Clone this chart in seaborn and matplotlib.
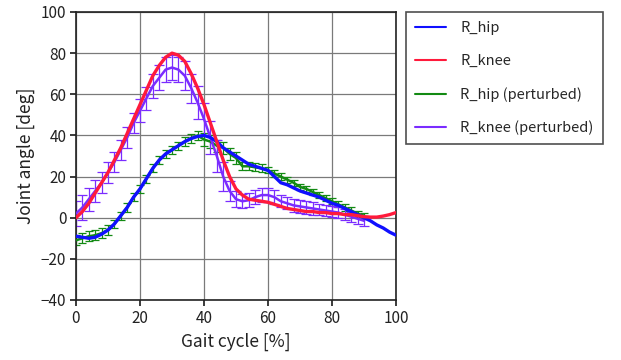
import numpy as np
import pandas as pd
import matplotlib
matplotlib.use("Agg")
import matplotlib.pyplot as plt
import seaborn as sns

# ---- data ----
gait_ref = list(range(0, 101, 2))
gait_pert = list(range(0, 91, 2))

r_hip = [-9, -9.5, -10, -9.5, -8, -6, -3, 1, 5, 10, 14, 19, 24, 28, 31, 33, 35, 37, 38.5, 39.5,
         40, 39, 37, 34, 32, 30, 28, 26, 25, 24, 23, 20, 17, 16, 14.5, 13, 12, 11, 10, 8.5,
         7, 6, 4.5, 3, 1.5, 0, -1.5, -3.5, -5, -7, -8.5]
r_knee = [0, 3, 7, 12, 17, 22, 28, 34, 41, 48, 55, 62, 69, 74, 78, 80, 79, 76, 70, 63,
          55, 46, 37, 28, 20, 14, 11, 9, 8.5, 8, 7.5, 6.5, 5.5, 4.5, 4, 3.5, 3, 3, 2.5, 2.5,
          2, 2, 1.5, 1.5, 1, 0.5, 0.3, 0.3, 0.8, 1.5, 2.5]

r_hip_pert = [-11, -10, -9, -8.5, -7.5, -6, -3, 1, 5, 10, 14, 19, 24, 28, 31, 33, 35, 37, 38.5, 40,
              38, 37, 35, 34, 31, 29, 25, 25, 24.5, 24, 23, 21.5, 20, 18.5, 17, 15, 14, 12.5, 11, 9.5,
              8, 6.5, 5, 3.5, 2, 1]
r_hip_pert_sd = [2.5, 2.5, 2.5, 2.5, 2.5, 2.5, 2, 2, 2, 2, 2, 2, 2, 2, 2, 2, 2, 2, 2, 2,
                 3, 3, 3, 3, 3, 3, 2, 2, 2, 2, 1.5, 1.5, 1.5, 1.5, 1.5, 1.5, 1.5, 1.5, 1.5, 1.5,
                 1.5, 1.5, 1.5, 1.5, 1.5, 1.5]
r_knee_pert = [2, 5, 9, 13, 17, 22, 27, 33, 39, 46, 52, 58, 64, 68, 72, 73, 72, 69, 63, 56,
               48, 39, 30, 20, 13, 9, 8, 8.5, 10, 11, 11, 10, 8, 7, 6, 5.5, 5, 4.5, 4, 3.5,
               3, 2.5, 1.5, 0.5, -0.5, -1.5]
r_knee_pert_sd = [6, 6, 5.5, 5.5, 5, 5, 5, 5, 5, 5, 5.5, 5.5, 6, 6, 6, 6, 6, 7, 7, 8,
                  8, 8, 8, 7, 5, 4, 3.5, 3.5, 3.5, 3.5, 3.5, 3.5, 3, 3, 3, 3, 3, 3, 2.5, 2.5,
                  2.5, 2.5, 2.5, 2.5, 2.5, 2.5]

labels = ["R_hip", "R_knee", "R_hip (perturbed)", "R_knee (perturbed)"]
colors = ["#1010ff", "#ff1a3c", "#138a13", "#7a2cff"]

sns.set_theme(style="white")
plt.rcParams['font.family'] = ['Noto Sans CJK JP', 'DejaVu Sans']

fig = plt.figure(figsize=(6.21, 3.60), dpi=100)
ax = fig.add_axes([76/621, 60/360, 320/621, 288/360])

# perturbed error bars
ax.errorbar(gait_pert, r_hip_pert, yerr=r_hip_pert_sd, fmt='none', ecolor=colors[2],
            elinewidth=0.9, capsize=3, capthick=0.9, zorder=2)
ax.errorbar(gait_pert, r_knee_pert, yerr=r_knee_pert_sd, fmt='none', ecolor=colors[3],
            elinewidth=0.9, capsize=3.5, capthick=0.9, zorder=2)

df_ref = pd.DataFrame({"x": gait_ref, "R_hip": r_hip, "R_knee": r_knee})
df_pert = pd.DataFrame({"x": gait_pert, "R_hip (perturbed)": r_hip_pert,
                        "R_knee (perturbed)": r_knee_pert})

sns.lineplot(data=df_pert, x="x", y="R_hip (perturbed)", ax=ax, color=colors[2], lw=1.8,
             label=labels[2], zorder=3)
sns.lineplot(data=df_pert, x="x", y="R_knee (perturbed)", ax=ax, color=colors[3], lw=1.8,
             label=labels[3], zorder=3)
sns.lineplot(data=df_ref, x="x", y="R_hip", ax=ax, color=colors[0], lw=2.4,
             label=labels[0], zorder=4)
sns.lineplot(data=df_ref, x="x", y="R_knee", ax=ax, color=colors[1], lw=2.4,
             label=labels[1], zorder=4)

ax.set_xlim(0, 100)
ax.set_ylim(-40, 100)
ax.set_xticks([0, 20, 40, 60, 80, 100])
ax.set_yticks([-40, -20, 0, 20, 40, 60, 80, 100])
ax.grid(True, color="#7a7a7a", lw=0.9)
for s in ax.spines.values():
    s.set_color("#222222")
    s.set_linewidth(1.2)
ax.tick_params(axis='both', labelsize=11, colors="#222222", length=4, direction='out',
               left=True, bottom=True, pad=3)
ax.set_xlabel("Gait cycle [%]", fontsize=12.5, color="#222222", labelpad=4)
ax.set_ylabel("Joint angle [deg]", fontsize=12.5, color="#222222", labelpad=4)

handles, labs = ax.get_legend_handles_labels()
order = [labs.index(l) for l in labels]
if ax.legend_:
    ax.legend_.remove()
leg = fig.legend([handles[i] for i in order], [labs[i] for i in order],
                 loc='upper left', bbox_to_anchor=(406/621, 1 - 12/360),
                 frameon=True, fancybox=False, edgecolor="#222222", fontsize=10.5,
                 handlelength=2.1, handletextpad=1.0, labelspacing=1.3,
                 borderpad=0.62, borderaxespad=0)
leg.get_frame().set_linewidth(1.2)
for h in leg.get_lines():
    h.set_linewidth(1.5)

fig.savefig("out.png", dpi=100, facecolor="white")
